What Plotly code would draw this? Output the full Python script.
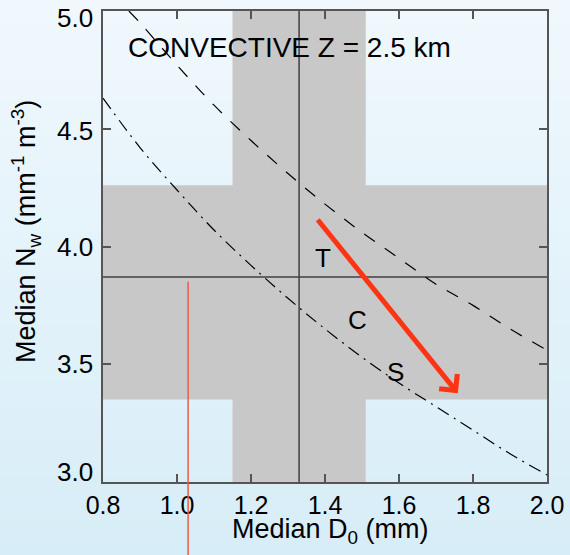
import plotly.graph_objects as go

# ---- data ----
x_ticks = [0.8, 1.0, 1.2, 1.4, 1.6, 1.8, 2.0]
y_ticks = [3.0, 3.5, 4.0, 4.5, 5.0]
x_range = [0.8, 2.0]
y_range = [3.0, 5.0]

dashed_x = [0.87, 0.9, 1.0, 1.1, 1.2, 1.3, 1.4, 1.5, 1.6, 1.7, 1.8, 1.9, 2.0]
dashed_y = [5.00, 4.95, 4.77, 4.60, 4.45, 4.31, 4.18, 4.06, 3.95, 3.84, 3.75, 3.65, 3.56]

dashdot_x = [0.8, 0.9, 1.0, 1.1, 1.2, 1.3, 1.4, 1.5, 1.6, 1.7, 1.8, 1.9, 2.0]
dashdot_y = [4.63, 4.42, 4.24, 4.07, 3.92, 3.78, 3.65, 3.53, 3.42, 3.32, 3.22, 3.12, 3.03]

median_D0 = 1.33
median_Nw = 3.87
D0_band = [1.15, 1.51]
Nw_band = [3.35, 4.26]

red_line_x = 1.03
red_line_top = 3.85

arrow_start = [1.377, 4.12]
arrow_end = [1.759, 3.377]

label_text = ["T", "C", "S"]
label_x = [1.394, 1.489, 1.591]
label_y = [3.95, 3.69, 3.465]

title_text = "CONVECTIVE Z = 2.5 km"
title_pos = [0.861, 4.843]

# ---- layout geometry ----
W, H = 570, 555
ML, MR, MT, MB = 103, 23, 11, 73
PW, PH = W - ML - MR, H - MT - MB
FONT = "Liberation Sans, Arial, Helvetica, sans-serif"

fig = go.Figure()

fig.add_trace(go.Scatter(x=dashed_x, y=dashed_y, mode="lines", line_shape="spline",
                         line=dict(color="black", width=1.2, dash="13px,12px"),
                         showlegend=False, hoverinfo="skip"))
fig.add_trace(go.Scatter(x=dashdot_x, y=dashdot_y, mode="lines", line_shape="spline",
                         line=dict(color="black", width=1.2, dash="13px,6px,2px,6px"),
                         showlegend=False, hoverinfo="skip"))

shapes = []
# background gradient (paper coords, extending into margins)
n = 60
top_c = (240, 248, 253)
bot_c = (215, 237, 247)
px0, px1 = -ML / PW - 0.01, 1 + MR / PW + 0.01
py0, py1 = -MB / PH - 0.01, 1 + MT / PH + 0.01
for i in range(n):
    t = i / (n - 1)
    c = tuple(round(bot_c[k] + (top_c[k] - bot_c[k]) * t) for k in range(3))
    ya = py0 + (py1 - py0) * i / n
    yb = py0 + (py1 - py0) * (i + 1) / n + 0.002
    shapes.append(dict(type="rect", xref="paper", yref="paper", x0=px0, x1=px1,
                       y0=ya, y1=yb, line=dict(width=0),
                       fillcolor="rgb(%d,%d,%d)" % c, layer="below"))

# gray bands
shapes.append(dict(type="rect", xref="x", yref="y", x0=D0_band[0], x1=D0_band[1],
                   y0=y_range[0], y1=y_range[1], line=dict(width=0),
                   fillcolor="#c8c8c8", layer="below"))
shapes.append(dict(type="rect", xref="x", yref="y", x0=x_range[0], x1=x_range[1],
                   y0=Nw_band[0], y1=Nw_band[1], line=dict(width=0),
                   fillcolor="#c8c8c8", layer="below"))
# median lines
shapes.append(dict(type="line", xref="x", yref="y", x0=median_D0, x1=median_D0,
                   y0=y_range[0], y1=y_range[1], line=dict(color="#404040", width=1.5),
                   layer="below"))
shapes.append(dict(type="line", xref="x", yref="y", x0=x_range[0], x1=x_range[1],
                   y0=median_Nw, y1=median_Nw, line=dict(color="#404040", width=1.5),
                   layer="below"))
# red vertical line extending below the axis
shapes.append(dict(type="line", xref="x", yref="paper", x0=red_line_x, x1=red_line_x,
                   y0=-MB / PH - 0.02,
                   y1=(red_line_top - y_range[0]) / (y_range[1] - y_range[0]),
                   line=dict(color="#f05a48", width=1.5), layer="above"))

annotations = []
annotations.append(dict(x=arrow_end[0], y=arrow_end[1], ax=arrow_start[0], ay=arrow_start[1],
                        xref="x", yref="y", axref="x", ayref="y", text="",
                        showarrow=True, arrowhead=4, arrowsize=0.9, arrowwidth=5,
                        arrowcolor="#ff3414", standoff=0, startstandoff=0))
for t, xx, yy in zip(label_text, label_x, label_y):
    annotations.append(dict(x=xx, y=yy, xref="x", yref="y", text=t, showarrow=False,
                            font=dict(family=FONT, size=26, color="black"),
                            xanchor="center", yanchor="middle"))
annotations.append(dict(x=title_pos[0], y=title_pos[1], xref="x", yref="y", text=title_text,
                        showarrow=False, font=dict(family=FONT, size=28, color="black"),
                        xanchor="left", yanchor="middle"))

# y tick labels (IDL style: end labels pulled inside the axis extent)
y_label_shift = {5.0: -7, 4.5: -2, 4.0: 0, 3.5: 0, 3.0: 10}
for v in y_ticks:
    annotations.append(dict(x=0, y=v, xref="paper", yref="y", text="%.1f" % v,
                            showarrow=False, xanchor="right", yanchor="middle",
                            xshift=-8, yshift=y_label_shift.get(v, 0),
                            font=dict(family=FONT, size=26, color="black")))

# axis titles
annotations.append(dict(x=(330 - ML) / PW, y=(MT + PH - 531) / PH, xref="paper", yref="paper",
                        text="Median D<sub>0</sub> (mm)", showarrow=False,
                        font=dict(family=FONT, size=27, color="black"),
                        xanchor="center", yanchor="middle"))
annotations.append(dict(x=(26 - ML) / PW, y=(MT + PH - 232) / PH, xref="paper", yref="paper",
                        text="Median N<sub>w</sub> (mm<sup>-1</sup> m<sup>-3</sup>)",
                        showarrow=False, textangle=-90,
                        font=dict(family=FONT, size=27, color="black"),
                        xanchor="center", yanchor="middle"))

axis_common = dict(showgrid=False, zeroline=False, showline=True, linecolor="#555555",
                   linewidth=1.5, mirror="ticks", ticks="inside", ticklen=8,
                   tickwidth=1.5, tickcolor="#555555", automargin=False)

fig.update_layout(
    width=W, height=H,
    margin=dict(l=ML, r=MR, t=MT, b=MB, pad=0, autoexpand=False),
    paper_bgcolor="rgb(228,243,250)",
    plot_bgcolor="rgba(0,0,0,0)",
    shapes=shapes,
    annotations=annotations,
    xaxis=dict(range=x_range, tickvals=x_ticks, tickformat=".1f", ticklabelstandoff=0,
               tickfont=dict(family=FONT, size=25, color="black"), **axis_common),
    yaxis=dict(range=y_range, tickvals=y_ticks, showticklabels=False, **axis_common),
)

fig.write_html("out.html", config={"displayModeBar": False},
               post_script="document.body.style.margin='0px';document.body.style.overflow='hidden';")
